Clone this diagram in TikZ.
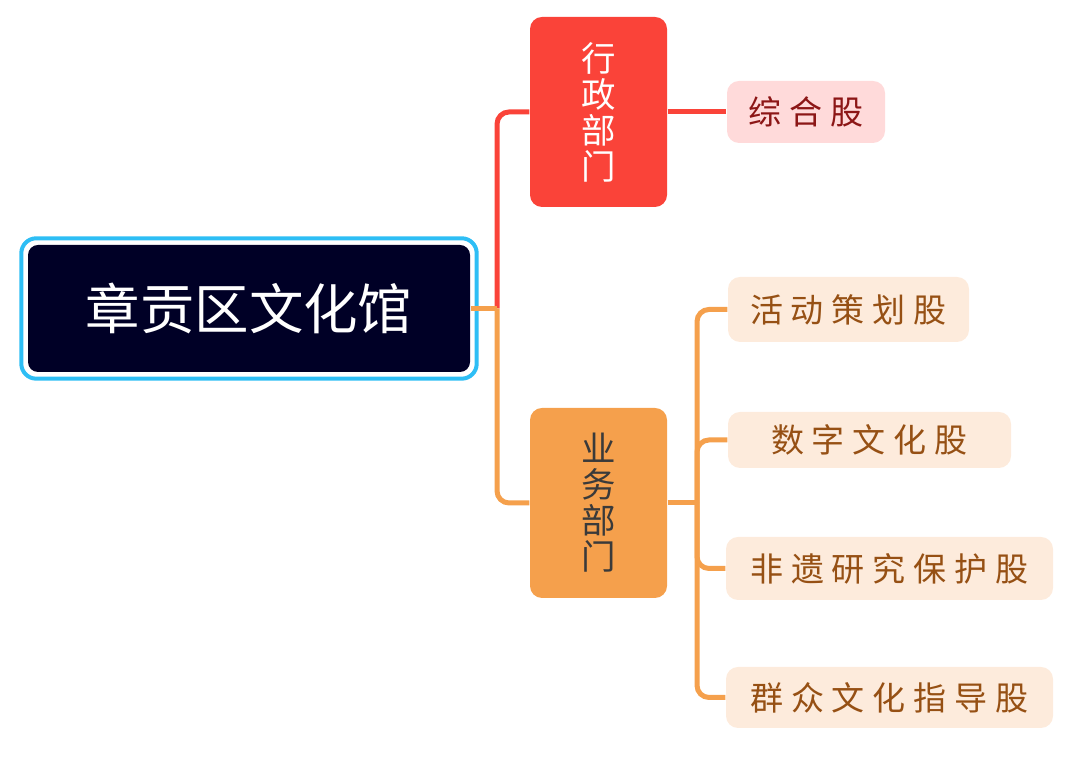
\documentclass[tikz,border=0pt]{standalone}
\usepackage{fontspec}
\setmainfont{Noto Sans CJK SC}
\newfontfamily\leaffont{Noto Sans CJK SC}[LetterSpace=24]
\usepackage{tikz}
\usetikzlibrary{fit}

\definecolor{rootnavy}{RGB}{0,0,38}
\definecolor{ringcyan}{RGB}{46,190,245}
\definecolor{adminred}{RGB}{250,67,57}
\definecolor{adminpink}{RGB}{255,218,218}
\definecolor{admintext}{RGB}{140,22,22}
\definecolor{bizorange}{RGB}{245,160,76}
\definecolor{bizpeach}{RGB}{253,235,220}
\definecolor{biztext}{RGB}{150,80,20}
\definecolor{biztitle}{RGB}{58,58,58}

\tikzset{
  rootbox/.style={fill=rootnavy, text=white, rounded corners=0.1cm,
    minimum width=4.42cm, minimum height=1.27cm, inner sep=0pt,
    font=\fontsize{15.5}{17}\selectfont},
  rootring/.style={draw=ringcyan, line width=0.04cm, rounded corners=0.15cm,
    inner sep=0.06cm},
  deptbox/.style={rounded corners=0.12cm, minimum width=1.37cm,
    minimum height=1.9cm, inner sep=0pt, align=center,
    font=\fontsize{9.8}{10.25}\selectfont},
  leafbox/.style={rounded corners=0.12cm, minimum height=0.62cm,
    inner sep=0pt, font=\fontsize{9.4}{10}\leaffont},
  redlink/.style={draw=adminred, line width=0.05cm, rounded corners=0.12cm},
  orangelink/.style={draw=bizorange, line width=0.05cm, rounded corners=0.12cm},
}

\begin{document}
\begin{tikzpicture}[]
\useasboundingbox (0,0) rectangle (10.8,7.6);

\node[rootbox] (root) at (2.49,4.515) {章贡区文化馆};
\node[rootring, fit=(root)] (ring) {};

\node[deptbox, fill=adminred, text=white] (admin) at (5.985,6.48) {行\\政\\部\\门};
\node[deptbox, fill=bizorange, text=biztitle] (biz) at (5.985,2.57) {业\\务\\部\\门};

\node[leafbox, fill=adminpink, text=admintext, minimum width=1.58cm] (general) at (8.06,6.48) {综合股};

\node[leafbox, fill=bizpeach, text=biztext, minimum width=2.41cm, minimum height=0.65cm] (plan) at (8.485,4.505) {活动策划股};
\node[leafbox, fill=bizpeach, text=biztext, minimum width=2.83cm, minimum height=0.56cm] (digital) at (8.695,3.20) {数字文化股};
\node[leafbox, fill=bizpeach, text=biztext, minimum width=3.27cm, minimum height=0.63cm] (heritage) at (8.895,1.915) {非遗研究保护股};
\node[leafbox, fill=bizpeach, text=biztext, minimum width=3.27cm, minimum height=0.61cm] (mass) at (8.895,0.625) {群众文化指导股};

\coordinate (hub) at (4.97,4.515);
\coordinate (bizhub) at (6.97,2.57);

\draw[redlink] (hub) |- (admin.west);
\draw[redlink] (admin.east) -- (general.west);
\draw[orangelink] (root.east) -- (hub);
\draw[orangelink] (hub) |- (biz.west);

\draw[orangelink] (biz.east) -- (bizhub);
\draw[orangelink] (bizhub) |- (plan.west);
\draw[orangelink] (bizhub) |- (digital.west);
\draw[orangelink] (bizhub) |- (heritage.west);
\draw[orangelink] (bizhub) |- (mass.west);

\end{tikzpicture}
\end{document}
